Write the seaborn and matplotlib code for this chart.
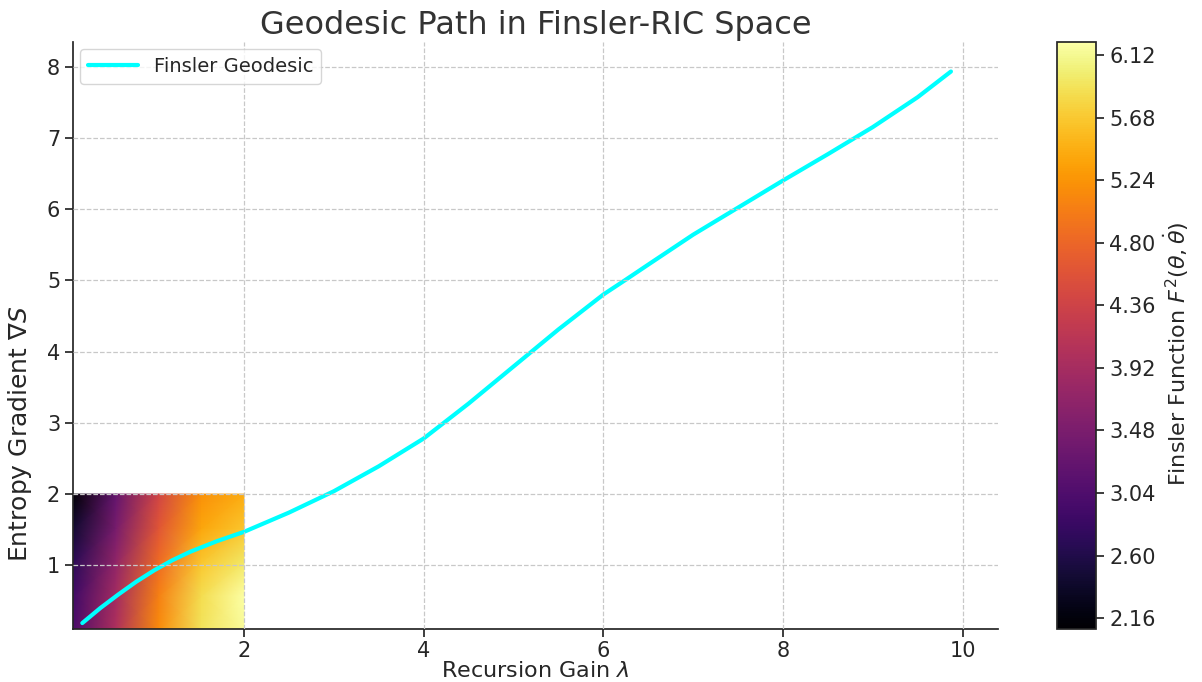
"""
plot.py
---------------------------
Geodesic path in Finsler-RIC space, drawn over a small patch of the
Finsler function F^2(theta, theta_dot).
"""

import numpy as np
import matplotlib
matplotlib.use("Agg")
import matplotlib.pyplot as plt
from matplotlib.ticker import FormatStrFormatter
import seaborn as sns

sns.set_theme(style="ticks")
plt.rcParams["font.family"] = ["DejaVu Sans"]

# Finsler function patch
patch_lambda = [0.1, 0.575, 1.05, 1.525, 2.0]
patch_entropy = [0.1, 0.575, 1.05, 1.525, 2.0]
# rows follow patch_entropy (bottom -> top), columns follow patch_lambda
finsler_f2 = [
    [3.00, 4.00, 5.15, 5.90, 6.15],
    [2.90, 3.90, 5.05, 5.85, 6.20],
    [2.70, 3.70, 4.85, 5.65, 5.95],
    [2.45, 3.45, 4.60, 5.40, 5.65],
    [2.10, 3.25, 4.40, 5.20, 5.45],
]
colorbar_ticks = [2.16, 2.60, 3.04, 3.48, 3.92, 4.36, 4.80, 5.24, 5.68, 6.12]
colorbar_range = (2.08, 6.21)

# Geodesic path
geo_lambda = [0.2, 0.4, 0.6, 0.8, 1.0, 1.2, 1.4, 1.7, 2.0, 2.5, 3.0, 3.5,
              4.0, 4.5, 5.0, 5.5, 6.0, 6.24, 6.5, 7.0, 7.5, 8.0, 8.5, 9.0,
              9.5, 9.87]
geo_entropy = [0.19, 0.40, 0.59, 0.77, 0.93, 1.07, 1.19, 1.34, 1.47, 1.74,
               2.04, 2.39, 2.78, 3.27, 3.79, 4.31, 4.80, 5.00, 5.22, 5.64,
               6.02, 6.40, 6.77, 7.15, 7.57, 7.93]


def plot_geodesic() -> None:
    fig = plt.figure(figsize=(12.02, 6.82), dpi=100)
    ax = fig.add_axes([0.061, 0.077, 0.769, 0.861])
    cax = fig.add_axes([0.879, 0.077, 0.033, 0.861])

    mesh = ax.pcolormesh(
        patch_lambda, patch_entropy, np.array(finsler_f2),
        shading="gouraud", cmap="inferno",
        vmin=colorbar_range[0], vmax=colorbar_range[1],
    )
    sns.lineplot(x=geo_lambda, y=geo_entropy, ax=ax, color="cyan", lw=3,
                 sort=False, label="Finsler Geodesic")

    ax.set_xlim(0.1, 10.39)
    ax.set_ylim(0.1, 8.34)
    ax.set_xticks([2, 4, 6, 8, 10])
    ax.set_yticks(range(1, 9))
    ax.set_axisbelow(False)
    ax.grid(True, linestyle="--", color="#c8c8c8", lw=0.9)
    sns.despine(ax=ax)
    ax.tick_params(labelsize=15)
    ax.tick_params(axis="x", pad=2)

    ax.set_title("Geodesic Path in Finsler-RIC Space", fontsize=23,
                 color="#333333", pad=6)
    ax.set_xlabel(r"Recursion Gain $\lambda$", fontsize=16, labelpad=0)
    ax.set_ylabel(r"Entropy Gradient $\nabla S$", fontsize=18)
    ax.yaxis.set_label_coords(-0.042, 0.333)
    ax.legend(loc="upper left", fontsize=14, handlelength=2.6,
              borderaxespad=0.35)

    cb = fig.colorbar(mesh, cax=cax)
    cb.set_ticks(colorbar_ticks)
    cb.ax.yaxis.set_major_formatter(FormatStrFormatter("%.2f"))
    cb.ax.tick_params(labelsize=15)
    cb.set_label(r"Finsler Function $F^2(\theta,\dot{\theta})$", fontsize=16)
    cb.ax.yaxis.label.set_y(0.47)

    fig.savefig("out.png", dpi=100)
    plt.close(fig)


if __name__ == "__main__":
    plot_geodesic()
